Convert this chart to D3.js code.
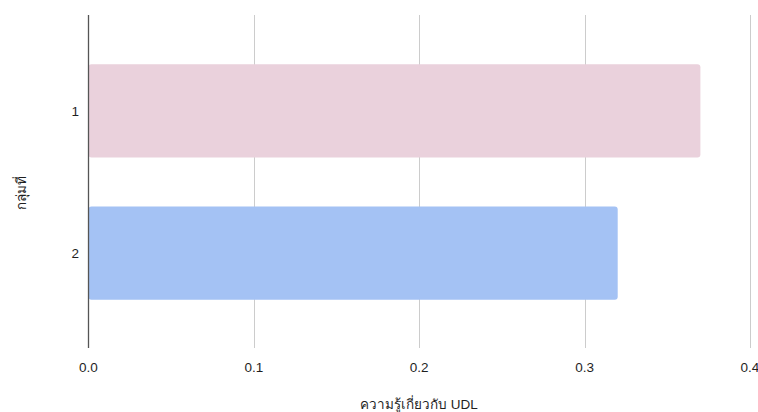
<!DOCTYPE html>
<html>
<head>
<meta charset="utf-8">
<script src="https://cdn.jsdelivr.net/npm/d3@7"></script>
<style>
  html, body { margin: 0; padding: 0; background: #fff; }
  svg { display: block; font-family: "Liberation Sans", Arial, "Noto Sans", sans-serif; }
</style>
</head>
<body>
<svg id="chart" width="758" height="412"></svg>
<script>
// Knowledge of UDL per group
const groups = ["1", "2"];
const values = [0.37, 0.32];
const barColors = ["#ead1dc", "#a4c2f4"];
const xTicks = [0.0, 0.1, 0.2, 0.3, 0.4];
const xTitle = "ความรู้เกี่ยวกับ UDL";
const yTitle = "กลุ่มที่";

const svg = d3.select("#chart");
const plotLeft = 88.5, plotRight = 750, plotTop = 15, plotBottom = 344;

const x = d3.scaleLinear().domain([0, 0.4]).range([plotLeft, plotRight]);
const y = d3.scaleBand().domain(groups).range([40, 324]).paddingInner(0.345).paddingOuter(0.17);

// vertical gridlines with short tick stubs below the plot
svg.append("g").selectAll("line").data(xTicks.slice(1)).join("line")
  .attr("x1", d => Math.round(x(d)) + 0.5).attr("x2", d => Math.round(x(d)) + 0.5)
  .attr("y1", plotTop).attr("y2", plotBottom + 4)
  .attr("stroke", "#cccccc").attr("stroke-width", 1);

// bars
svg.append("g").selectAll("rect").data(groups).join("rect")
  .attr("x", x(0))
  .attr("y", d => y(d))
  .attr("width", (d, i) => x(values[i]) - x(0))
  .attr("height", y.bandwidth())
  .attr("rx", 3).attr("ry", 3)
  .attr("fill", (d, i) => barColors[i]);

// baseline axis at zero
svg.append("line")
  .attr("x1", x(0)).attr("x2", x(0))
  .attr("y1", plotTop).attr("y2", plotBottom + 4)
  .attr("stroke", "#555").attr("stroke-width", 1.3);

// x tick labels
svg.append("g").selectAll("text").data(xTicks).join("text")
  .attr("x", d => x(d)).attr("y", 372)
  .attr("text-anchor", "middle")
  .attr("font-size", 13.5).attr("fill", "#1f1f1f")
  .text(d => d3.format(".1f")(d));

// y tick labels
svg.append("g").selectAll("text").data(groups).join("text")
  .attr("x", 79).attr("y", d => y(d) + y.bandwidth() / 2 + 5)
  .attr("text-anchor", "end")
  .attr("font-size", 13.5).attr("fill", "#1f1f1f")
  .text(d => d);

// axis titles
svg.append("text")
  .attr("x", 419).attr("y", 409)
  .attr("text-anchor", "middle")
  .attr("font-size", 13.5).attr("fill", "#1f1f1f")
  .text(xTitle);

svg.append("text")
  .attr("transform", "translate(26,193) rotate(-90)")
  .attr("text-anchor", "middle")
  .attr("font-size", 13.5).attr("fill", "#1f1f1f")
  .text(yTitle);
</script>
</body>
</html>
